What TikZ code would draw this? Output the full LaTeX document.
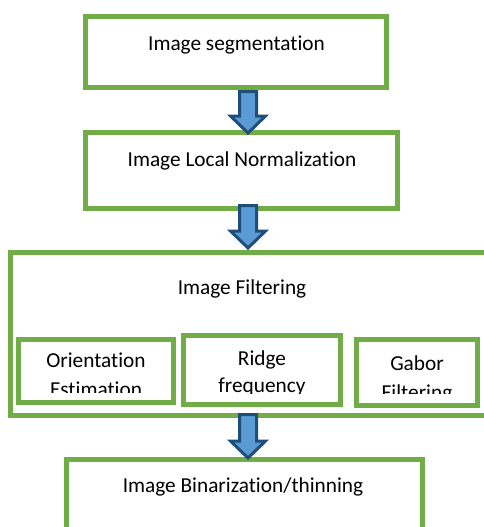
\documentclass[tikz,border=0pt]{standalone}
\usepackage{fontspec}
\setmainfont[Ligatures=NoCommon]{Carlito}
\usetikzlibrary{calc}
\definecolor{boxgreen}{HTML}{70AD47}
\definecolor{arrowdark}{HTML}{1F4E79}
\definecolor{arrowfill}{HTML}{5B9BD5}
\newcommand\blkarrow[2]{%
  \filldraw[blockarrow] ($(#1)+(-8.5,0)$) -- ($(#2)+(-8.5,-17)$) -- ($(#2)+(-17.5,-17)$) -- (#2)
    -- ($(#2)+(17.5,-17)$) -- ($(#2)+(8.5,-17)$) -- ($(#1)+(8.5,0)$) -- cycle;}
\begin{document}
\begin{tikzpicture}[x=1pt,y=-1pt,
  greenbox/.style={draw=boxgreen, line width=5pt, fill=white, inner sep=0pt, outer sep=0pt},
  lbl/.style={font=\fontsize{21.3}{26.5}\selectfont, inner sep=0pt, anchor=base, align=center, text=black},
  wide/.style={font=\fontsize{21.3}{29}\selectfont},
  mid/.style={font=\fontsize{21.3}{27}\selectfont},
  blockarrow/.style={draw=arrowdark, fill=arrowfill, line width=3pt, line join=miter}]
\clip (0,0) rectangle (484,527);
\fill[white] (0,0) rectangle (484,527);

% main boxes
\node[greenbox, minimum width=301pt, minimum height=71pt] (b1) at (236,52) {};
\node[greenbox, minimum width=312pt, minimum height=76pt] (b2) at (241.5,170.5) {};
\node[greenbox, minimum width=489.5pt, minimum height=162.5pt] (b3) at (255.25,333.75) {};
\node[greenbox, minimum width=155pt, minimum height=63pt] (b3a) at (96,371) {};
\node[greenbox, minimum width=157pt, minimum height=69pt] (b3b) at (262,370) {};
\node[greenbox, minimum width=121pt, minimum height=66pt] (b3c) at (417,372.5) {};
\node[greenbox, minimum width=356pt, minimum height=100.5pt] (b4) at (244.5,509.75) {};

% labels
\node[lbl] (t1) at (236.5,51) {Image segmentation};
\node[lbl] (t2) at (242,166) {Image Local Normalization};
\node[lbl] (t3) at (242,294) {Image Filtering};
\begin{scope}
  \clip (21,342) rectangle (171,392);
  \node[lbl, wide] (t3a) at (96,396) {Orientation\\Estimation};
\end{scope}
\begin{scope}
  \clip (186,338) rectangle (338,393);
  \node[lbl, mid] (t3b) at (262,392) {Ridge\\frequency};
\end{scope}
\begin{scope}
  \clip (359,342) rectangle (475,393);
  \node[lbl, wide] (t3c) at (417,399) {Gabor\\Filtering};
\end{scope}
\node[lbl] (t4) at (243,492) {Image Binarization/thinning};

% block arrows
\coordinate (a1top) at (248,91.5);  \coordinate (a1tip) at (248,133);
\coordinate (a2top) at (248,205.5); \coordinate (a2tip) at (248,248);
\coordinate (a3top) at (248,414.5); \coordinate (a3tip) at (248,458);
\blkarrow{a1top}{a1tip}
\blkarrow{a2top}{a2tip}
\blkarrow{a3top}{a3tip}
\end{tikzpicture}
\end{document}
